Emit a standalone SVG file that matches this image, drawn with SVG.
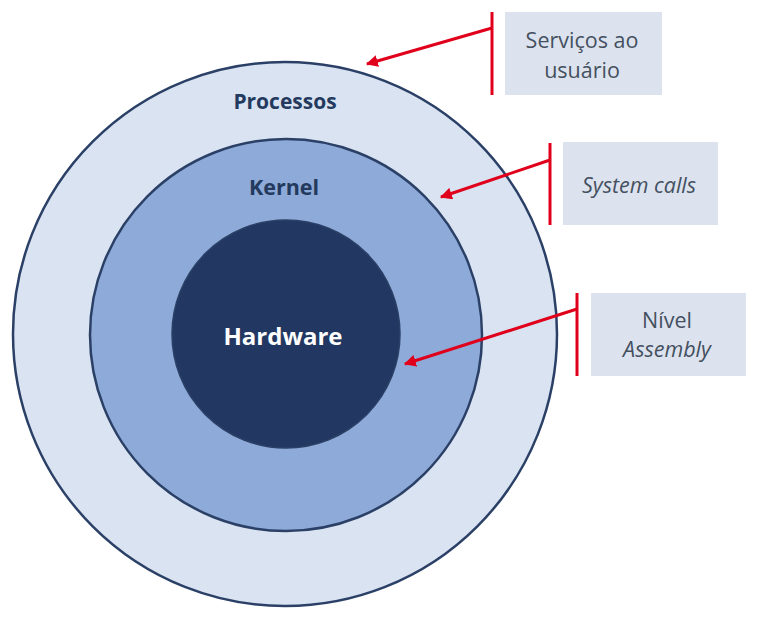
<svg xmlns="http://www.w3.org/2000/svg" width="763" height="618" viewBox="0 0 763 618">
<defs>
<style>
.ring{stroke:#2b4066;stroke-width:2.5}
.lbl{font-family:"Open Sans","Liberation Sans",sans-serif;font-weight:bold;text-anchor:middle}
.box{fill:#dce3ee}
.bt{font-family:"Open Sans","Liberation Sans",sans-serif;font-size:21.5px;fill:#44505f;text-anchor:middle}
.red{stroke:#e0001b;stroke-width:3;fill:none}
</style>
<marker id="ah" viewBox="0 0 10 10" refX="9" refY="5" markerWidth="4" markerHeight="4" orient="auto" markerUnits="strokeWidth">
<path d="M0,0 L10,5 L0,10 z" fill="#e0001b"/>
</marker>
</defs>
<rect width="763" height="618" fill="#ffffff"/>
<g id="processos">
<circle class="ring" cx="285" cy="334" r="272" fill="#dae3f2"/>
<text class="lbl" x="285" y="109" font-size="21" fill="#233a5e">Processos</text>
</g>
<g id="kernel">
<circle class="ring" cx="286" cy="335" r="196" fill="#8eaad8"/>
<text class="lbl" x="284" y="195" font-size="21.5" fill="#233a5e">Kernel</text>
</g>
<g id="hardware">
<circle cx="286" cy="334" r="114" fill="#223862" stroke="#2b4066" stroke-width="1.5"/>
<text class="lbl" x="283" y="345" font-size="24" fill="#ffffff">Hardware</text>
</g>
<g id="servicos">
<rect class="box" x="505" y="12" width="157" height="83"/>
<text class="bt" x="582" y="48">Serviços ao</text>
<text class="bt" x="582" y="78">usuário</text>
</g>
<g id="syscalls">
<rect class="box" x="563" y="142" width="155" height="83"/>
<text class="bt" x="639" y="193" font-style="italic">System calls</text>
</g>
<g id="assembly">
<rect class="box" x="591" y="293" width="155" height="83"/>
<text class="bt" x="667" y="328">Nível</text>
<text class="bt" x="667" y="357" font-style="italic">Assembly</text>
</g>
<g id="connectors">
<line class="red" x1="492" y1="12" x2="492" y2="95"/>
<line class="red" x1="492" y1="28" x2="367" y2="64" marker-end="url(#ah)"/>
<line class="red" x1="550" y1="143" x2="550" y2="225"/>
<line class="red" x1="550" y1="160" x2="441" y2="197" marker-end="url(#ah)"/>
<line class="red" x1="577" y1="293" x2="577" y2="376"/>
<line class="red" x1="577" y1="309" x2="405" y2="364" marker-end="url(#ah)"/>
</g>
</svg>
